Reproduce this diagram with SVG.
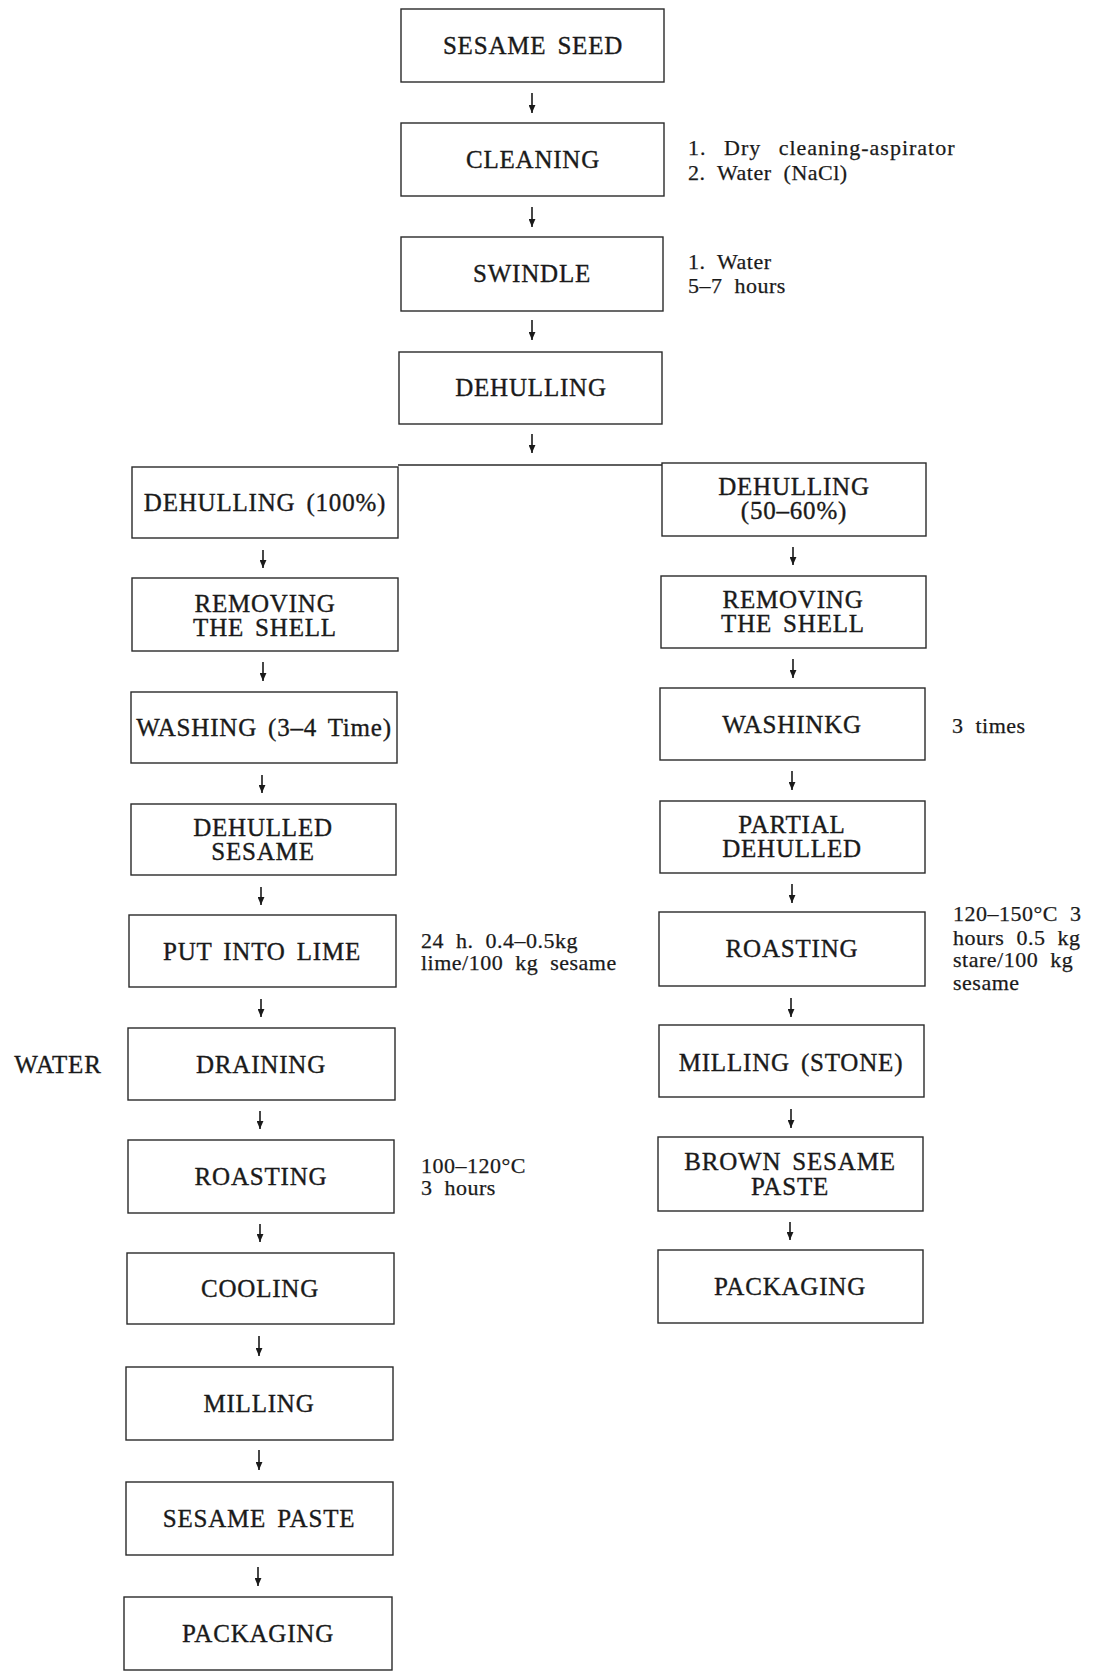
<svg xmlns="http://www.w3.org/2000/svg" width="1096" height="1674" viewBox="0 0 1096 1674">
<style>
.box{fill:#fff;stroke:#2a2a2a;stroke-width:1.4}
.lbl{font-family:"Liberation Serif","Times New Roman",serif;font-size:25px;letter-spacing:0.8px;word-spacing:4px;fill:#1a1a1a;stroke:#1a1a1a;stroke-width:0.35;text-anchor:middle}
.note{font-family:"Liberation Serif","Times New Roman",serif;font-size:22px;letter-spacing:0.5px;word-spacing:6px;fill:#1a1a1a;stroke:#1a1a1a;stroke-width:0.25}
.wide{letter-spacing:1px;word-spacing:11px}
.arr{stroke:#1a1a1a;stroke-width:1.6;fill:none;marker-end:url(#ah)}
.ln{stroke:#2a2a2a;stroke-width:1.4;fill:none}
</style>
<defs>
<marker id="ah" markerUnits="userSpaceOnUse" markerWidth="7" markerHeight="8" refX="3" refY="7" orient="0" viewBox="0 0 6 7">
<path d="M0,0 L6,0 L3,7 Z" fill="#1a1a1a"/>
</marker>
</defs>
<rect width="1096" height="1674" fill="#fff"/>

<g id="connectors">
<path class="arr" d="M532,93 V113"/>
<path class="arr" d="M532,207 V227"/>
<path class="arr" d="M532,320 V340"/>
<path class="arr" d="M532,434 V453"/>
<path class="ln" d="M398,465 H662"/>
<path class="arr" d="M263,550 V568"/>
<path class="arr" d="M263,662 V681"/>
<path class="arr" d="M262,775 V793"/>
<path class="arr" d="M261,887 V905"/>
<path class="arr" d="M261,999 V1017"/>
<path class="arr" d="M260,1111 V1129"/>
<path class="arr" d="M260,1224 V1242"/>
<path class="arr" d="M259,1336 V1356"/>
<path class="arr" d="M259,1450 V1470"/>
<path class="arr" d="M258,1567 V1586"/>
<path class="arr" d="M793,547 V565"/>
<path class="arr" d="M793,659 V678"/>
<path class="arr" d="M792,771 V790"/>
<path class="arr" d="M792,884 V903"/>
<path class="arr" d="M791,998 V1017"/>
<path class="arr" d="M791,1109 V1128"/>
<path class="arr" d="M790,1222 V1240"/>
</g>

<g id="n-sesame-seed"><rect class="box" x="401" y="9" width="263" height="73"/><text class="lbl" x="533" y="54">SESAME SEED</text></g>
<g id="n-cleaning"><rect class="box" x="401" y="123" width="263" height="73"/><text class="lbl" x="533" y="168">CLEANING</text></g>
<g id="n-swindle"><rect class="box" x="401" y="237" width="262" height="74"/><text class="lbl" x="532" y="282">SWINDLE</text></g>
<g id="n-dehulling"><rect class="box" x="399" y="352" width="263" height="72"/><text class="lbl" x="531" y="396">DEHULLING</text></g>

<g id="note-cleaning"><text class="note wide" x="688" y="155">1. Dry cleaning-aspirator</text><text class="note" x="688" y="180">2. Water (NaCl)</text></g>
<g id="note-swindle"><text class="note" x="688" y="269">1. Water</text><text class="note" x="688" y="293">5–7 hours</text></g>

<g id="l-dehulling100"><rect class="box" x="132" y="467" width="266" height="71"/><text class="lbl" x="265" y="511">DEHULLING (100%)</text></g>
<g id="l-removing"><rect class="box" x="132" y="578" width="266" height="73"/><text class="lbl" x="265" y="612">REMOVING</text><text class="lbl" x="265" y="636">THE SHELL</text></g>
<g id="l-washing"><rect class="box" x="131" y="692" width="266" height="71"/><text class="lbl" x="264" y="736">WASHING (3–4 Time)</text></g>
<g id="l-dehulled"><rect class="box" x="131" y="804" width="265" height="71"/><text class="lbl" x="263" y="836">DEHULLED</text><text class="lbl" x="263" y="860">SESAME</text></g>
<g id="l-lime"><rect class="box" x="129" y="915" width="267" height="72"/><text class="lbl" x="262" y="960">PUT INTO LIME</text></g>
<g id="note-lime"><text class="note" x="421" y="948">24 h. 0.4–0.5kg</text><text class="note" x="421" y="970">lime/100 kg sesame</text></g>
<g id="l-draining"><rect class="box" x="128" y="1028" width="267" height="72"/><text class="lbl" x="261" y="1073">DRAINING</text></g>
<g id="note-water"><text class="lbl" x="58" y="1073">WATER</text></g>
<g id="l-roasting"><rect class="box" x="128" y="1140" width="266" height="73"/><text class="lbl" x="261" y="1185">ROASTING</text></g>
<g id="note-roast-l"><text class="note" x="421" y="1173">100–120°C</text><text class="note" x="421" y="1195">3 hours</text></g>
<g id="l-cooling"><rect class="box" x="127" y="1253" width="267" height="71"/><text class="lbl" x="260" y="1297">COOLING</text></g>
<g id="l-milling"><rect class="box" x="126" y="1367" width="267" height="73"/><text class="lbl" x="259" y="1412">MILLING</text></g>
<g id="l-paste"><rect class="box" x="126" y="1482" width="267" height="73"/><text class="lbl" x="259" y="1527">SESAME PASTE</text></g>
<g id="l-packaging"><rect class="box" x="124" y="1597" width="268" height="73"/><text class="lbl" x="258" y="1642">PACKAGING</text></g>

<g id="r-dehulling5060"><rect class="box" x="662" y="463" width="264" height="73"/><text class="lbl" x="794" y="495">DEHULLING</text><text class="lbl" x="794" y="519">(50–60%)</text></g>
<g id="r-removing"><rect class="box" x="661" y="576" width="265" height="72"/><text class="lbl" x="793" y="608">REMOVING</text><text class="lbl" x="793" y="632">THE SHELL</text></g>
<g id="r-washinkg"><rect class="box" x="660" y="688" width="265" height="72"/><text class="lbl" x="792" y="733">WASHINKG</text></g>
<g id="note-3times"><text class="note" x="952" y="733">3 times</text></g>
<g id="r-partial"><rect class="box" x="660" y="801" width="265" height="72"/><text class="lbl" x="792" y="833">PARTIAL</text><text class="lbl" x="792" y="857">DEHULLED</text></g>
<g id="r-roasting"><rect class="box" x="659" y="912" width="266" height="74"/><text class="lbl" x="792" y="957">ROASTING</text></g>
<g id="note-roast-r"><text class="note" x="953" y="921">120–150°C 3</text><text class="note" x="953" y="945">hours 0.5 kg</text><text class="note" x="953" y="967">stare/100 kg</text><text class="note" x="953" y="990">sesame</text></g>
<g id="r-milling"><rect class="box" x="659" y="1025" width="265" height="72"/><text class="lbl" x="791" y="1071">MILLING (STONE)</text></g>
<g id="r-brown"><rect class="box" x="658" y="1137" width="265" height="74"/><text class="lbl" x="790" y="1170">BROWN SESAME</text><text class="lbl" x="790" y="1195">PASTE</text></g>
<g id="r-packaging"><rect class="box" x="658" y="1250" width="265" height="73"/><text class="lbl" x="790" y="1295">PACKAGING</text></g>
</svg>
